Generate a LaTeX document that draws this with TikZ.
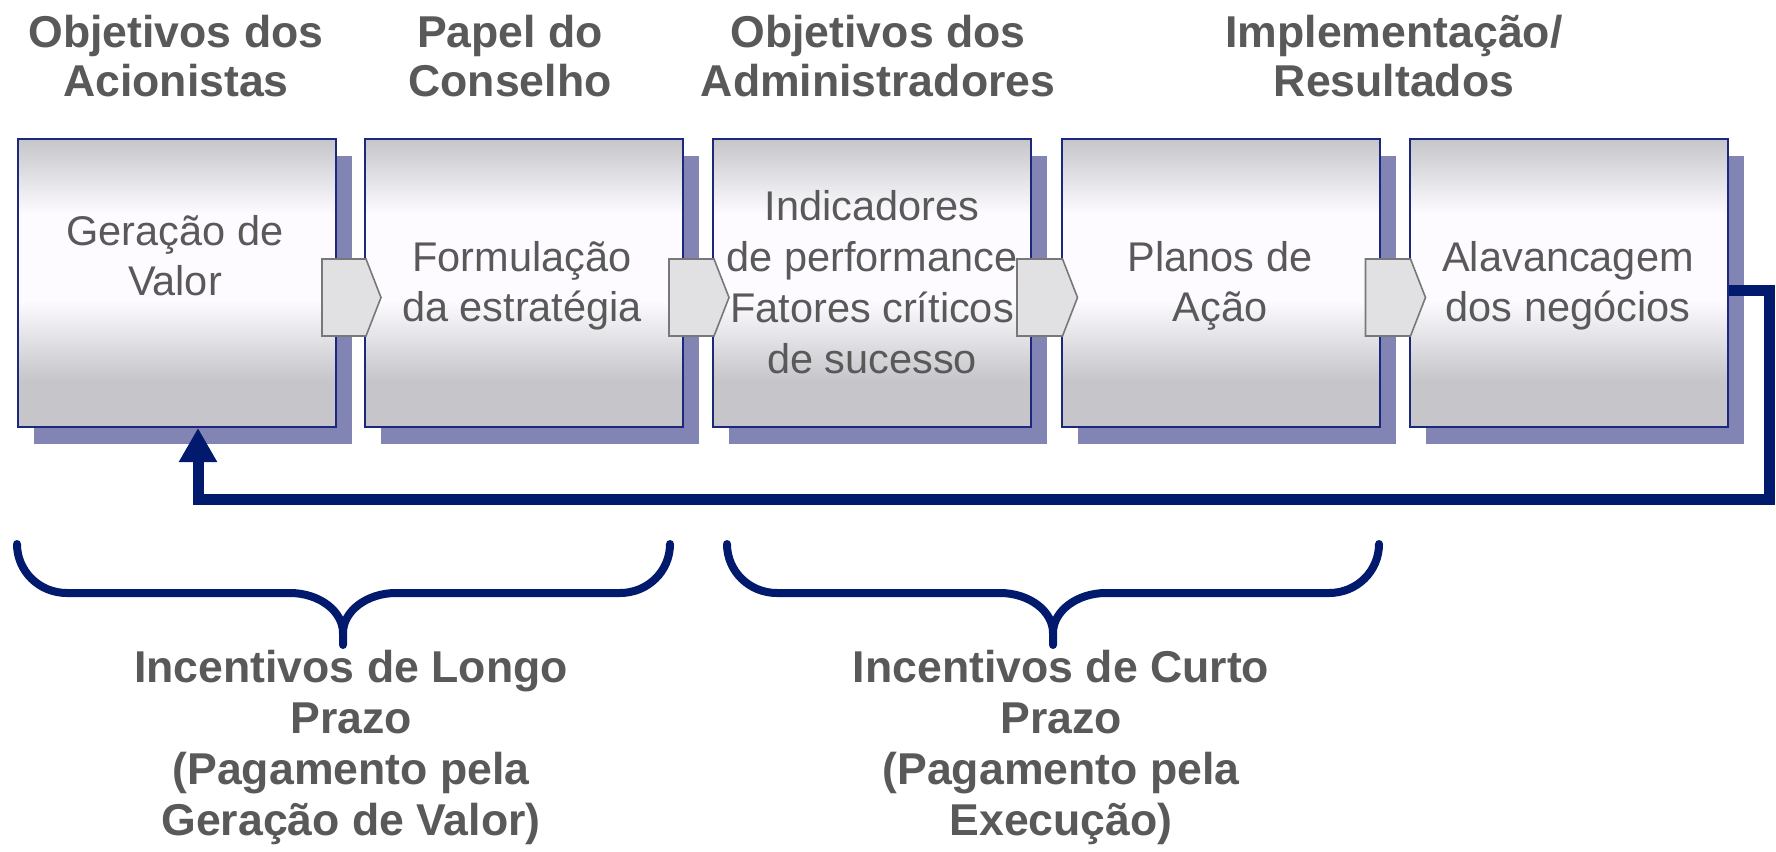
\documentclass[tikz,border=0pt]{standalone}
\usepackage{fontspec}
\setmainfont{Liberation Sans}
\usetikzlibrary{calc,arrows.meta,shadows}
\definecolor{txtgray}{RGB}{89,89,89}
\definecolor{bxg}{RGB}{197,197,202}
\definecolor{bxw}{RGB}{253,251,255}
\definecolor{shadowblue}{RGB}{130,132,180}
\definecolor{boxborder}{RGB}{28,40,125}
\definecolor{navy}{RGB}{2,26,110}
\definecolor{chevfill}{RGB}{225,225,228}
\definecolor{chevline}{RGB}{120,120,120}
\pgfdeclareverticalshading{boxshade}{100bp}{color(0bp)=(bxg); color(25bp)=(bxg); color(33bp)=(bxg); color(47bp)=(bxw); color(62bp)=(bxw); color(75bp)=(bxg); color(100bp)=(bxg)}
\newcommand\tsA{\rule{0pt}{17pt}}
\newcommand\tsB{\rule[-7pt]{0pt}{7pt}}
\newcommand\bsA{\rule{0pt}{16pt}}
\newcommand\bsB{\rule[-6pt]{0pt}{6pt}}
\begin{document}
\begin{tikzpicture}[x=0.5pt,y=-0.5pt,
 ttl/.style={font=\bfseries\fontsize{22.3}{24.5}\selectfont, text=txtgray, align=center, inner sep=0pt},
 boxtext/.style={font=\fontsize{20.75}{25}\selectfont, text=txtgray, align=center, inner sep=0pt},
 bottomtext/.style={font=\bfseries\fontsize{22.3}{25.35}\selectfont, text=txtgray, align=center, inner sep=0pt},
 stagebox/.style={rectangle, draw=boxborder, line width=1pt, minimum width=159pt, minimum height=144pt, inner sep=0pt, shading=boxshade, drop shadow={shadow xshift=8pt, shadow yshift=-8.5pt, fill=shadowblue, opacity=1}},
 chev/.style={fill=chevfill, draw=chevline, line width=0.8pt, line join=miter},
 feedback/.style={draw=navy, line width=5.5pt, -{Triangle[length=17pt,width=18pt]}},
 bracest/.style={draw=navy, line width=4pt, line cap=round, line join=round}]
\fill[white] (0,0) rectangle (1776,851);
\useasboundingbox (0,0) rectangle (1776,851);

% stage boxes
\node[stagebox] (b1) at (177,283) {};
\node[stagebox] (b2) at (524,283) {};
\node[stagebox] (b3) at (872,283) {};
\node[stagebox] (b4) at (1220.5,283) {};
\node[stagebox] (b5) at (1568.5,283) {};

% box texts
\node[boxtext] (t1) at (175,260.5) {\bsA Geração de\\Valor\bsB};
\node[boxtext] (t2) at (522,286) {\bsA Formulação\\da estratégia\bsB};
\node[boxtext, font=\fontsize{20.75}{25.6}\selectfont] (t3) at (872,287) {\bsA Indicadores\\de performance\\Fatores críticos\\de sucesso\bsB};
\node[boxtext] (t4) at (1220,286) {\bsA Planos de\\Ação\bsB};
\node[boxtext] (t5) at (1568,286) {\bsA Alavancagem\\dos negócios\bsB};

% titles
\node[ttl] (h1) at (176,62) {\tsA Objetivos dos\\Acionistas\tsB};
\node[ttl] (h2) at (510,62) {\tsA Papel do\\Conselho\tsB};
\node[ttl] (h3) at (878,62) {\tsA Objetivos dos\\Administradores\tsB};
\node[ttl] (h4) at (1394,62) {\tsA Implementação/\\Resultados\tsB};

% chevrons between boxes
\foreach \a/\b in {b1/b2,b2/b3,b3/b4,b4/b5}
  \draw[chev] ($(\a.east)+(-15,-24)$) -- ($(\b.west)+(2,-24)$) -- ($(\b.west)+(17,14.5)$) -- ($(\b.west)+(2,53)$) -- ($(\a.east)+(-15,53)$) -- cycle;

% feedback loop
\coordinate (fbr) at (1769,499);
\draw[feedback] ($(b5.east)+(0,7)$) -| (fbr) -| ($(b1.south)+(21,0)$);

% braces
\draw[bracest] (17,544) .. controls (17,571) and (39,593) .. (67,593) -- (290,593)
  .. controls (319,593) and (343,611) .. (343,633) -- (343,645) -- (343,633)
  .. controls (343,611) and (367,593) .. (396,593) -- (620,593)
  .. controls (648,593) and (670,571) .. (670,544);
\draw[bracest] (727,544) .. controls (727,571) and (749,593) .. (777,593) -- (1000,593)
  .. controls (1029,593) and (1053,611) .. (1053,633) -- (1053,645) -- (1053,633)
  .. controls (1053,611) and (1077,593) .. (1106,593) -- (1329,593)
  .. controls (1357,593) and (1379,571) .. (1379,544);

% bottom texts
\node[bottomtext] (n1) at (351,749) {\tsA Incentivos de Longo\\Prazo\\(Pagamento pela\\Geração de Valor)\tsB};
\node[bottomtext] (n2) at (1061,749) {\tsA Incentivos de Curto\\Prazo\\(Pagamento pela\\Execução)\tsB};
\end{tikzpicture}
\end{document}
